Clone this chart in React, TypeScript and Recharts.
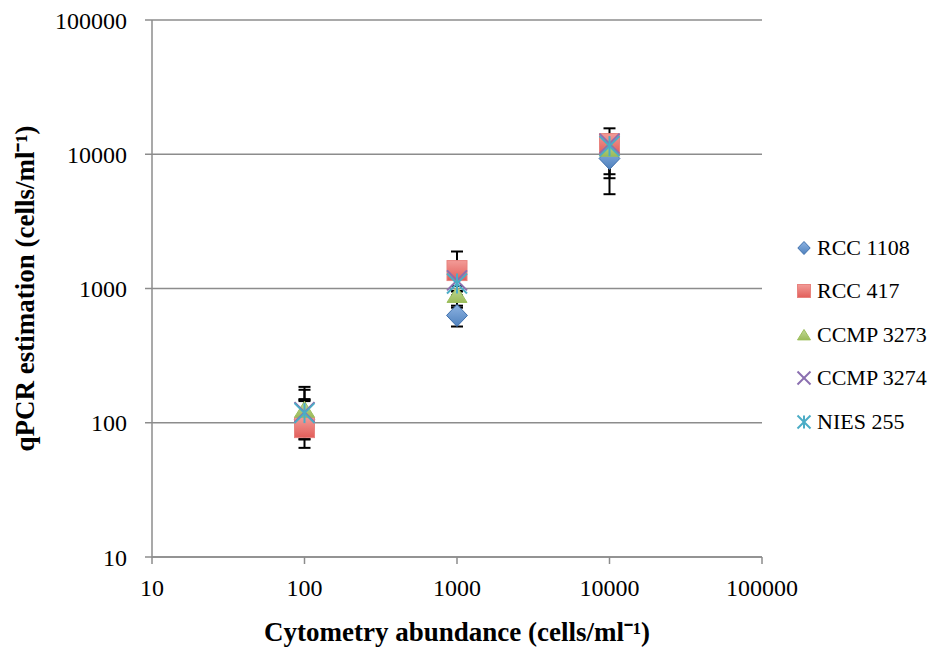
import React from 'react';
import { ScatterChart, Scatter, XAxis, YAxis, CartesianGrid, ErrorBar, Legend } from 'recharts';

// Cytometry abundance (x) for the three dilution levels
const abundance = [100, 1000, 10000];

// qPCR estimates per strain
const rcc1108 = [105, 630, 9300];
const rcc417 = [92, 1360, 12000];
const ccmp3273 = [125, 895, 11000];
const ccmp3274 = [120, 1150, 12000];
const nies255 = [118, 1090, 11500];

// error bars as [below, above]
const rcc1108Err = [[30, 45], [109, 90], [4260, 1500]];
const rcc417Err = [[27, 93], [400, 526], [2000, 3600]];
const ccmp3273Err = [[49, 51], [150, 150], [3900, 2000]];
const ccmp3274Err = [[25, 25], [200, 200], [2000, 2000]];
const nies255Err = [[30, 30], [200, 200], [4870, 2000]];

const decadeTicks = [10, 100, 1000, 10000, 100000];

const serif = '"Liberation Serif", "Times New Roman", serif';
const gridGray = '#8c8c8c';

const build = (values: number[], errs: number[][]) =>
  abundance.map((x, i) => ({ x, y: values[i], err: errs[i] }));

const Diamond = ({ cx, cy, r = 11 }: any) => (
  <path
    d={`M${cx},${cy - r} L${cx + r * 0.95},${cy} L${cx},${cy + r} L${cx - r * 0.95},${cy} Z`}
    fill="url(#gBlue)"
    stroke="#3f70ad"
    strokeWidth={1}
  />
);

const Square = ({ cx, cy, r = 10 }: any) => (
  <rect x={cx - r} y={cy - r} width={r * 2} height={r * 2} fill="url(#gRed)" stroke="#e8837f" strokeWidth={1} />
);

const Triangle = ({ cx, cy, r = 10 }: any) => (
  <path
    d={`M${cx},${cy - r * 0.85} L${cx + r},${cy + r * 0.75} L${cx - r},${cy + r * 0.75} Z`}
    fill="url(#gGreen)"
    stroke="#9cbf5c"
    strokeWidth={1}
  />
);

const Cross = ({ cx, cy, r = 10 }: any) => (
  <g stroke="#8b6fb0" strokeWidth={2}>
    <line x1={cx - r} y1={cy - r} x2={cx + r} y2={cy + r} />
    <line x1={cx - r} y1={cy + r} x2={cx + r} y2={cy - r} />
  </g>
);

const Star = ({ cx, cy, r = 10 }: any) => (
  <g stroke="#4bacc6" strokeWidth={2}>
    <line x1={cx - r} y1={cy - r} x2={cx + r} y2={cy + r} />
    <line x1={cx - r} y1={cy + r} x2={cx + r} y2={cy - r} />
    <line x1={cx} y1={cy - r} x2={cx} y2={cy + r} />
  </g>
);

const series = [
  { name: 'RCC 1108', data: build(rcc1108, rcc1108Err), Shape: Diamond },
  { name: 'RCC 417', data: build(rcc417, rcc417Err), Shape: Square },
  { name: 'CCMP 3273', data: build(ccmp3273, ccmp3273Err), Shape: Triangle },
  { name: 'CCMP 3274', data: build(ccmp3274, ccmp3274Err), Shape: Cross },
  { name: 'NIES 255', data: build(nies255, nies255Err), Shape: Star },
];

const LegendBox = () => (
  <div style={{ fontFamily: serif, fontSize: 22, color: '#000' }}>
    {series.map(({ name, Shape }) => (
      <div key={name} style={{ display: 'flex', alignItems: 'center', height: 43.5 }}>
        <svg width={18} height={18} style={{ marginRight: 4 }}>
          <Shape cx={9} cy={9} r={6.5} />
        </svg>
        <span>{name}</span>
      </div>
    ))}
  </div>
);

const titleStyle = { fill: '#000', fontSize: 27, fontWeight: 'bold', fontFamily: serif };

const App = () => {
  return (
    <div style={{ position: 'absolute', left: 0, top: 0, background: '#fff' }}>
      <ScatterChart width={933} height={648} margin={{ top: 20, right: 171, left: 0, bottom: 0 }}>
        <defs>
          <linearGradient id="gBlue" x1="0" y1="0" x2="0" y2="1">
            <stop offset="0%" stopColor="#8db3e2" />
            <stop offset="100%" stopColor="#4f81bd" />
          </linearGradient>
          <linearGradient id="gRed" x1="0" y1="0" x2="0" y2="1">
            <stop offset="0%" stopColor="#f29b97" />
            <stop offset="100%" stopColor="#e25e5a" />
          </linearGradient>
          <linearGradient id="gGreen" x1="0" y1="0" x2="0" y2="1">
            <stop offset="0%" stopColor="#c3d99a" />
            <stop offset="100%" stopColor="#9bbb59" />
          </linearGradient>
        </defs>
        <CartesianGrid vertical={false} stroke={gridGray} strokeWidth={1.5} />
        <XAxis
          type="number"
          dataKey="x"
          scale="log"
          domain={[10, 100000]}
          ticks={decadeTicks}
          allowDataOverflow
          height={91}
          axisLine={{ stroke: gridGray, strokeWidth: 1.5 }}
          tickLine={{ stroke: gridGray, strokeWidth: 1.5 }}
          tickSize={7}
          tickMargin={15}
          tick={{ fill: '#000', fontSize: 24, fontFamily: serif }}
          tickFormatter={(v: number) => String(v)}
          label={{
            value: 'Cytometry abundance (cells/ml⁻¹)',
            position: 'insideBottom',
            offset: 7,
            style: titleStyle,
          }}
        />
        <YAxis
          type="number"
          dataKey="y"
          scale="log"
          domain={[10, 100000]}
          ticks={decadeTicks}
          allowDataOverflow
          width={152}
          axisLine={{ stroke: gridGray, strokeWidth: 1.5 }}
          tickLine={{ stroke: gridGray, strokeWidth: 1.5 }}
          tickSize={7}
          tickMargin={18}
          tick={{ fill: '#000', fontSize: 24, fontFamily: serif }}
          tickFormatter={(v: number) => String(v)}
          label={{
            value: 'qPCR estimation (cells/ml⁻¹)',
            angle: -90,
            position: 'insideLeft',
            offset: 24,
            style: { ...titleStyle, textAnchor: 'middle' },
          }}
        />
        <Legend
          layout="vertical"
          align="center"
          verticalAlign="middle"
          content={<LegendBox />}
          wrapperStyle={{ left: 795, top: 226, width: 140 }}
        />
        {series.map(({ name, data, Shape }) => (
          <Scatter
            key={name}
            name={name}
            data={data}
            isAnimationActive={false}
            shape={(p: any) => <Shape cx={p.cx} cy={p.cy} />}
          >
            <ErrorBar dataKey="err" direction="y" width={6} stroke="#000" strokeWidth={2} />
          </Scatter>
        ))}
      </ScatterChart>
    </div>
  );
};

export default App;
